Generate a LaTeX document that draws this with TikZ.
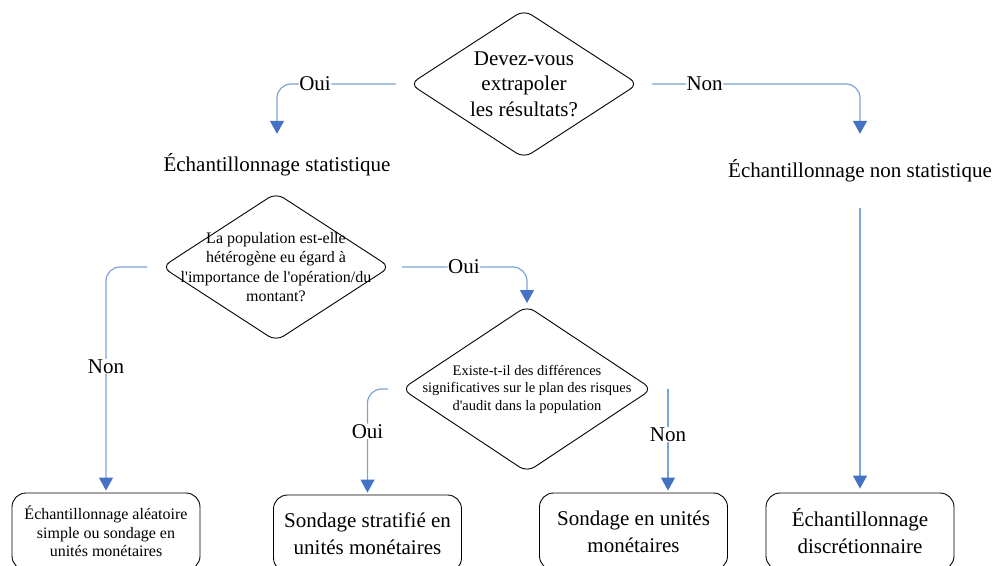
\documentclass[tikz,border=0pt]{standalone}
\usepackage{fontspec}
\setmainfont{Liberation Serif}[Ligatures=TeXOff]
\usetikzlibrary{arrows.meta,shapes.geometric,calc}
\definecolor{linkblue}{RGB}{125,163,214}
\definecolor{tipblue}{RGB}{68,114,196}

\tikzset{
  decision/.style={shape=diamond, draw=black, line width=0.9pt, inner sep=0pt,
    outer sep=0pt, rounded corners=9pt},
  qbig/.style={font=\fontsize{21}{25.5}\selectfont, align=center, inner sep=0pt},
  qmid/.style={font=\fontsize{16}{19.3}\selectfont, align=center, inner sep=0pt},
  qsmall/.style={font=\fontsize{14.5}{17.5}\selectfont, align=center, inner sep=0pt},
  heading/.style={font=\fontsize{21}{25}\selectfont, inner sep=0pt,
    text height=15pt, text depth=5pt},
  outcome/.style={draw=black, line width=0.9pt, rounded corners=14pt,
    minimum width=188pt, minimum height=77pt, align=center, inner sep=0pt,
    font=\fontsize{21}{27}\selectfont},
  link/.style={draw=linkblue, line width=1.2pt, rounded corners=14pt,
    -{Triangle[width=14pt,length=13pt,color=tipblue]}},
  lbl/.style={fill=white, inner sep=0.5pt, font=\fontsize{21}{25}\selectfont}
}

\begin{document}
\begin{tikzpicture}[x=1pt,y=-1pt]
  \useasboundingbox (0,0) rectangle (995,565);
  \clip (0,0) rectangle (995,565);

  % decisions
  \node[decision, minimum width=228pt, minimum height=148pt] (d1) at (524,84) {};
  \node[qbig] (d1t) at (d1.center) {Devez-vous\\extrapoler\\les résultats?};

  \node[heading] (t1) at (277,166) {Échantillonnage statistique};
  \node[heading] (t2) at (860,172) {Échantillonnage non statistique};

  \node[decision, minimum width=228pt, minimum height=148pt] (d2) at (276,267) {};
  \node[qmid] (d2t) at (d2.center) {La population est-elle\\hétérogène eu égard à\\l'importance de l'opération/du\\montant?};

  \node[decision, minimum width=250pt, minimum height=166pt] (d3) at (527,389) {};
  \node[qsmall] (d3t) at (d3.center) {Existe-t-il des différences\\significatives sur le plan des risques\\d'audit dans la population};

  % outcomes
  \node[outcome, font=\fontsize{16}{18.5}\selectfont] (b1) at (106,531.5)
    {Échantillonnage aléatoire\\simple ou sondage en\\unités monétaires};
  \node[outcome] (b2) at (367.5,533.5) {Sondage stratifié en\\unités monétaires};
  \node[outcome] (b3) at (633.5,531.5) {Sondage en unités\\monétaires};
  \node[outcome] (b4) at (860,531.5) {Échantillonnage\\discrétionnaire};

  % connectors
  \draw[link, shorten <=14pt, shorten >=22pt] (d1.west) -| node[lbl, pos=0.357] (l1) {Oui} (t1.north);
  \draw[link, shorten <=14pt, shorten >=28pt] (d1.east) -| node[lbl, pos=0.15] (l2) {Non} (t2.north);
  \draw[link, shorten <=26pt, shorten >=4pt] (t2.south) -- (b4.north);

  \draw[link, shorten <=15pt, shorten >=2pt] (d2.west) -| node[lbl, pos=0.72] (l3) {Non} (b1.north);
  \draw[link, shorten <=12pt, shorten >=3pt] (d2.east) -| node[lbl, pos=0.27] (l4) {Oui} (d3.north);

  \draw[link, shorten <=14pt, shorten >=2pt] (d3.west) -| node[lbl, pos=0.7] (l5) {Oui} (b2.north);
  \coordinate (c3) at ($(d3.east)+(16,0)$);
  \draw[link, shorten >=2pt] (c3) -- node[lbl, pos=0.44] (l6) {Non} (c3 |- b3.north);
\end{tikzpicture}
\end{document}
